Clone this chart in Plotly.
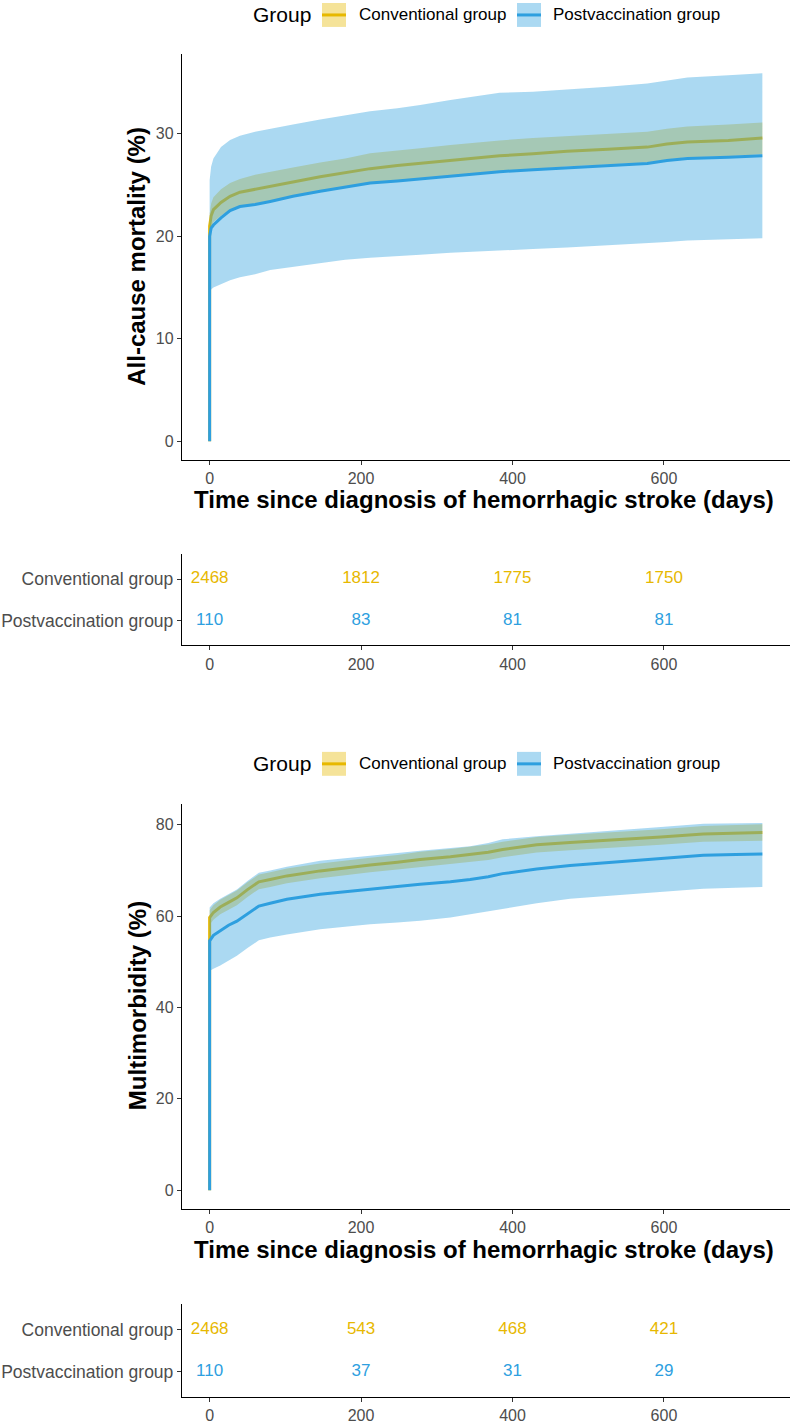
import plotly.graph_objects as go

# ---------------- data ----------------
GROUPS = ["Conventional group", "Postvaccination group"]
COLORS = {"Conventional group": "#E7B800", "Postvaccination group": "#2E9FDF"}
FILLS = {"Conventional group": "rgba(231,184,0,0.4)", "Postvaccination group": "rgba(46,159,223,0.4)"}

# All-cause mortality (%)
mort_days = [0, 0, 2, 5, 15, 27, 40, 60, 80, 110, 146, 179, 212, 248, 278, 318, 344, 383, 427, 472, 526, 578, 604, 631, 685, 730]
mort_conv_est = [0, 21.0, 22.0, 22.6, 23.3, 23.9, 24.3, 24.6, 24.9, 25.3, 25.8, 26.2, 26.6, 26.9, 27.1, 27.4, 27.6, 27.85, 28.05, 28.3, 28.5, 28.7, 29.0, 29.2, 29.35, 29.6]
mort_conv_lo = [19.9, 20.8, 21.4, 22.0, 22.6, 22.9, 23.2, 23.5, 23.9, 24.4, 24.8, 25.1, 25.4, 25.6, 25.9, 26.1, 26.35, 26.55, 26.8, 27.0, 27.2, 27.5, 27.7, 27.8, 28.0]
mort_conv_hi = [22.2, 23.2, 23.8, 24.6, 25.2, 25.6, 26.0, 26.3, 26.7, 27.2, 27.6, 28.1, 28.4, 28.6, 28.9, 29.1, 29.35, 29.6, 29.8, 30.0, 30.2, 30.5, 30.7, 30.9, 31.1]
mort_post_est = [0, 20.0, 20.8, 21.1, 21.8, 22.5, 22.9, 23.1, 23.4, 23.9, 24.4, 24.8, 25.2, 25.4, 25.6, 25.8, 26.0, 26.3, 26.5, 26.7, 26.9, 27.1, 27.4, 27.6, 27.7, 27.85]
mort_post_lo = [14.3, 14.8, 15.0, 15.3, 15.7, 16.0, 16.3, 16.7, 17.0, 17.4, 17.7, 17.9, 18.1, 18.2, 18.4, 18.5, 18.6, 18.75, 18.9, 19.1, 19.3, 19.45, 19.6, 19.7, 19.8]
mort_post_hi = [25.5, 26.8, 27.6, 28.7, 29.4, 29.8, 30.2, 30.5, 30.9, 31.4, 31.8, 32.2, 32.5, 32.8, 33.3, 33.6, 34.0, 34.1, 34.3, 34.6, 34.9, 35.2, 35.5, 35.7, 35.9]

# Multimorbidity (%)
mm_days = [0, 0, 5, 14, 25, 36, 50, 65, 80, 102, 146, 179, 212, 248, 278, 318, 344, 368, 387, 432, 476, 517, 551, 596, 652, 695, 730]
mm_conv_est = [0, 59.7, 60.8, 62.0, 63.0, 64.0, 65.8, 67.5, 68.0, 68.8, 69.9, 70.6, 71.2, 71.8, 72.4, 73.0, 73.5, 74.0, 74.6, 75.6, 76.1, 76.5, 76.8, 77.3, 78.0, 78.2, 78.3]
mm_conv_lo = [58.1, 59.2, 60.4, 61.4, 62.4, 64.2, 65.9, 66.4, 67.2, 68.3, 69.0, 69.6, 70.2, 70.7, 71.3, 71.8, 72.3, 72.9, 73.9, 74.4, 74.8, 75.1, 75.6, 76.3, 76.5, 76.5]
mm_conv_hi = [61.3, 62.4, 63.6, 64.6, 65.6, 67.4, 69.1, 69.6, 70.4, 71.5, 72.2, 72.8, 73.4, 74.1, 74.7, 75.2, 75.7, 76.3, 77.3, 77.8, 78.2, 78.5, 79.0, 79.7, 79.9, 80.1]
mm_post_est = [0, 54.6, 55.8, 56.8, 58.0, 58.9, 60.5, 62.2, 62.8, 63.7, 64.8, 65.4, 65.9, 66.5, 67.0, 67.5, 68.0, 68.6, 69.3, 70.3, 71.1, 71.6, 72.1, 72.6, 73.3, 73.5, 73.6]
mm_post_lo = [48.0, 48.5, 49.2, 50.2, 51.3, 53.0, 54.7, 55.3, 56.0, 57.1, 57.7, 58.2, 58.6, 59.0, 59.7, 60.4, 61.0, 61.5, 62.8, 63.8, 64.3, 64.8, 65.3, 66.0, 66.2, 66.4]
mm_post_hi = [61.9, 62.8, 63.8, 64.8, 65.8, 67.7, 69.5, 70.0, 70.8, 72.1, 72.6, 73.2, 73.8, 74.3, 74.9, 75.3, 76.0, 76.8, 77.5, 78.0, 78.5, 79.0, 79.5, 80.2, 80.3, 80.4]

# Numbers at risk
risk_times = [0, 200, 400, 600]
mort_risk_conv = [2468, 1812, 1775, 1750]
mort_risk_post = [110, 83, 81, 81]
mm_risk_conv = [2468, 543, 468, 421]
mm_risk_post = [110, 37, 31, 29]

x_ticks = [0, 200, 400, 600]
mort_y_ticks = [0, 10, 20, 30]
mm_y_ticks = [0, 20, 40, 60, 80]

x_title = "Time since diagnosis of hemorrhagic stroke (days)"
mort_y_title = "All-cause mortality (%)"
mm_y_title = "Multimorbidity (%)"
legend_title = "Group"

# ---------------- layout helpers ----------------
W, H = 792, 1424
FONT = "Liberation Sans, Arial, sans-serif"
TICK_GRAY = "#4D4D4D"


def px_x(p):
    return p / W


def px_y(p):
    return 1 - p / H


X_DOM = [px_x(182), px_x(790)]
X_RANGE = [-36.5, 766.5]

fig = go.Figure()


def add_curves(days, conv, post, xa, ya):
    for g, (est, lo, hi) in zip(GROUPS, [conv, post]):
        fig.add_trace(go.Scatter(x=days[1:], y=lo, mode="lines", line=dict(width=0),
                                 xaxis=xa, yaxis=ya, showlegend=False, hoverinfo="skip"))
        fig.add_trace(go.Scatter(x=days[1:], y=hi, mode="lines", line=dict(width=0),
                                 fill="tonexty", fillcolor=FILLS[g],
                                 xaxis=xa, yaxis=ya, showlegend=False, hoverinfo="skip"))
        fig.add_trace(go.Scatter(x=days, y=est, mode="lines", name=g,
                                 line=dict(color=COLORS[g], width=3),
                                 xaxis=xa, yaxis=ya, showlegend=False))


def add_risk(conv_counts, post_counts, xa, ya):
    for g, counts in zip(GROUPS, [conv_counts, post_counts]):
        fig.add_trace(go.Scatter(x=risk_times, y=[g] * len(risk_times), mode="text",
                                 text=[str(c) for c in counts],
                                 textfont=dict(family=FONT, size=17, color=COLORS[g]),
                                 xaxis=xa, yaxis=ya, showlegend=False, hoverinfo="skip"))


add_curves(mort_days, (mort_conv_est, mort_conv_lo, mort_conv_hi),
           (mort_post_est, mort_post_lo, mort_post_hi), "x", "y")
add_risk(mort_risk_conv, mort_risk_post, "x2", "y2")
add_curves(mm_days, (mm_conv_est, mm_conv_lo, mm_conv_hi),
           (mm_post_est, mm_post_lo, mm_post_hi), "x3", "y3")
add_risk(mm_risk_conv, mm_risk_post, "x4", "y4")

axis_common = dict(showline=True, linecolor="black", linewidth=1.3, ticks="outside",
                   ticklen=4, tickwidth=1.1, tickcolor="#333333", showgrid=False,
                   zeroline=False, tickfont=dict(family=FONT, size=16, color=TICK_GRAY),
                   fixedrange=True)
risk_y_font = dict(family=FONT, size=17.5, color=TICK_GRAY)


def xaxis(anchor):
    return dict(domain=X_DOM, range=X_RANGE, tickvals=x_ticks, anchor=anchor, **axis_common)


def risk_yaxis(dom, anchor):
    opts = dict(axis_common)
    opts["tickfont"] = risk_y_font
    return dict(domain=dom, type="category", categoryorder="array",
                categoryarray=GROUPS[::-1], range=[-0.6, 1.6], anchor=anchor, **opts)


layout = dict(
    width=W, height=H, margin=dict(l=0, r=0, t=0, b=0),
    paper_bgcolor="white", plot_bgcolor="white", showlegend=False,
    font=dict(family=FONT),
    xaxis=xaxis("y"),
    yaxis=dict(domain=[px_y(461), px_y(54)], range=[-1.8, 37.8], tickvals=mort_y_ticks,
               anchor="x", **axis_common),
    xaxis2=xaxis("y2"),
    yaxis2=risk_yaxis([px_y(647), px_y(556)], "x2"),
    xaxis3=xaxis("y3"),
    yaxis3=dict(domain=[px_y(1212), px_y(806)], range=[-4.03, 84.6], tickvals=mm_y_ticks,
                anchor="x3", **axis_common),
    xaxis4=xaxis("y4"),
    yaxis4=risk_yaxis([px_y(1401), px_y(1308)], "x4"),
)
fig.update_layout(**layout)

annotations = []
shapes = []
title_font = dict(family=FONT, size=24, color="black", weight="bold")
x_center = (182 + 790) / 2 / W

for ytitle, yc, xt_y in [(mort_y_title, (54 + 461) / 2, 501), (mm_y_title, (806 + 1212) / 2, 1253)]:
    annotations.append(dict(text=ytitle, xref="paper", yref="paper", x=px_x(137), y=px_y(yc),
                            textangle=-90, showarrow=False, font=title_font,
                            xanchor="center", yanchor="middle"))
    annotations.append(dict(text=x_title, xref="paper", yref="paper", x=x_center - px_x(2), y=px_y(xt_y),
                            showarrow=False, font=title_font, xanchor="center", yanchor="middle"))

# legends (one above each curve panel)
for ly in [15, 766]:
    annotations.append(dict(text=legend_title, xref="paper", yref="paper", x=px_x(251), y=px_y(ly),
                            showarrow=False, xanchor="left", yanchor="middle",
                            font=dict(family=FONT, size=21, color="black")))
    for g, kx, tx in [(GROUPS[0], 322, 357), (GROUPS[1], 517, 551)]:
        shapes.append(dict(type="rect", xref="paper", yref="paper",
                           x0=px_x(kx), x1=px_x(kx + 24), y0=px_y(ly + 12), y1=px_y(ly - 12),
                           fillcolor=FILLS[g], line=dict(width=0)))
        shapes.append(dict(type="line", xref="paper", yref="paper",
                           x0=px_x(kx), x1=px_x(kx + 24), y0=px_y(ly), y1=px_y(ly),
                           line=dict(color=COLORS[g], width=3)))
        annotations.append(dict(text=g, xref="paper", yref="paper", x=px_x(tx), y=px_y(ly),
                                showarrow=False, xanchor="left", yanchor="middle",
                                font=dict(family=FONT, size=17, color="black")))

fig.update_layout(annotations=annotations, shapes=shapes)
fig.write_html("out.html")
